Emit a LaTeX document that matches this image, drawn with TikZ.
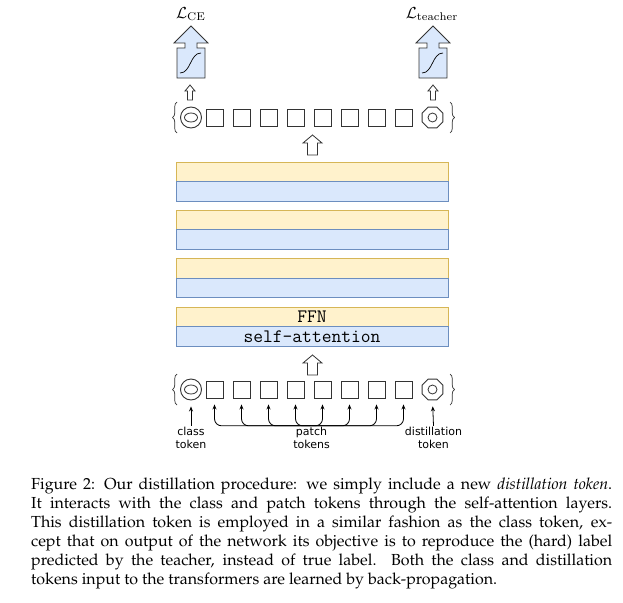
\documentclass[tikz,border=0pt]{standalone}
\usepackage[T1,TU]{fontenc}
\usepackage{fontspec}
\newfontfamily\labelfont{DejaVu Sans}
\usetikzlibrary{shapes,arrows.meta,positioning,decorations.pathreplacing}
\definecolor{ffnfill}{HTML}{FFF2CC}
\definecolor{ffnline}{HTML}{D6B656}
\definecolor{attfill}{HTML}{DAE8FC}
\definecolor{attline}{HTML}{6C8EBF}
\definecolor{tokline}{HTML}{333333}
\tikzset{
  ffnlayer/.style={draw=ffnline, fill=ffnfill, line width=0.8pt, minimum width=272pt, minimum height=19.5pt, inner sep=0pt, font=\ttfamily\fontsize{19}{19}\selectfont},
  attlayer/.style={ffnlayer, draw=attline, fill=attfill},
  tok/.style={draw=tokline, line width=0.9pt, minimum size=17pt, inner sep=0pt},
  roundtok/.style={tok, circle, minimum size=21pt},
  octtok/.style={tok, regular polygon, regular polygon sides=8, minimum size=22.5pt},
  hollow/.style={draw=tokline, fill=white, line width=0.8pt, line join=miter},
  tlabel/.style={font=\labelfont\fontsize{11}{13.5}\selectfont, align=center, inner sep=1pt},
  losslabel/.style={scale=1.6, transform shape, inner sep=0pt},
  conn/.style={->, line width=0.8pt, shorten >=6pt},
  brc/.style={decorate, decoration={brace, amplitude=4.5pt}, draw=tokline, line width=0.7pt},
  pics/bigup/.style={code={
    \draw[hollow] (0,0) -- (9.5,8) -- (5,8) -- (5,20) -- (-5,20) -- (-5,8) -- (-9.5,8) -- cycle;}},
  pics/smallup/.style={code={
    \draw[hollow] (0,0) -- (5,6) -- (2.5,6) -- (2.5,15) -- (-2.5,15) -- (-2.5,6) -- (-5,6) -- cycle;}},
  pics/lossbox/.style={code={
    \draw[hollow, fill=attfill] (0,0) -- (17,17) -- (6,17) -- (6,22) -- (14,22) -- (14,52)
      -- (-14,52) -- (-14,22) -- (-6,22) -- (-6,17) -- (-17,17) -- cycle;
    \draw[line width=0.7pt] (-11,47) .. controls (0,47) and (-1,27) .. (10,27);}}
}

\begin{document}
\begin{tikzpicture}[x=1pt, y=-1pt, >={Stealth[length=5pt, width=4pt]}]
  \path[use as bounding box, fill=white] (0,0) rectangle (623,602);

  % losses
  \node[losslabel] (lce) at (191,14) {$\mathcal{L}_{\mathrm{CE}}$};
  \node[losslabel] (lteach) at (432,14) {$\mathcal{L}_{\mathrm{teacher}}$};
  \pic at (191,26) {lossbox};
  \pic at (433,26) {lossbox};
  \pic at (190,85) {smallup};
  \pic at (433,85) {smallup};

  % output tokens
  \node[roundtok] (ocls) at (191,117.5) {};
  \draw[tokline, line width=0.8pt] (ocls.center) ellipse (6.5 and 4.5);
  \foreach \i in {1,...,8}
    \node[tok] (o\i) at ({187.5+27*\i},117.5) {};
  \node[octtok] (odst) at (432.5,117.5) {};
  \draw[tokline, line width=0.8pt] (odst.center) circle (4.5);
  \draw[brc] (177,133) -- (177,102);
  \draw[brc] (450,102) -- (450,133);

  \pic at (312.5,135) {bigup};

  % transformer layers
  \foreach \j/\t in {1/162,2/210.3,3/258.6} {
    \node[ffnlayer] (ffn\j) at (312,\t+9.75) {};
    \node[attlayer] (att\j) at (312,\t+29.25) {};
  }
  \node[ffnlayer] (ffn4) at (312,316.75) {FFN};
  \node[attlayer] (att4) at (312,336.25) {self-attention};

  \pic at (312.5,355) {bigup};

  % input tokens
  \node[roundtok] (cls) at (191,389.5) {};
  \draw[tokline, line width=0.8pt] (cls.center) ellipse (6.5 and 4.5);
  \foreach \i in {1,...,8}
    \node[tok] (p\i) at ({187.5+27*\i},389.5) {};
  \node[octtok] (dst) at (432.5,389.5) {};
  \draw[tokline, line width=0.8pt] (dst.center) circle (4.5);
  \draw[brc] (177,405) -- (177,374);
  \draw[brc] (450,374) -- (450,405);

  % token labels
  \node[tlabel] (clslbl) at (191,438) {class\\token};
  \node[tlabel] (plbl) at (311.5,438) {patch\\tokens};
  \node[tlabel] (dstlbl) at (433.5,438) {distillation\\token};

  \draw[conn] (clslbl.north) -- (cls.south);
  \draw[conn] (dstlbl.north) -- (dst.south);
  \foreach \i in {1,...,8}
    \draw[conn, rounded corners=7pt] (plbl.north) -| (p\i.south);

  % caption
  \node[anchor=base west, inner sep=0pt,
        font=\fontencoding{T1}\fontfamily{ppl}\fontsize{16}{19}\selectfont] (cap) at (31,489)
  {\vtop{\baselineskip=19pt
   \hbox to 581pt{Figure 2: Our distillation procedure: we simply include a new {\itshape distillation token}.}
   \hbox to 581pt{It interacts with the class and patch tokens through the self-attention layers.}
   \hbox to 581pt{This distillation token is employed in a similar fashion as the class token, ex-}
   \hbox to 581pt{cept that on output of the network its objective is to reproduce the (hard) label}
   \hbox to 581pt{predicted by the teacher, instead of true label.\ \ Both the class and distillation}
   \hbox{tokens input to the transformers are learned by back-propagation.}}};
\end{tikzpicture}
\end{document}
